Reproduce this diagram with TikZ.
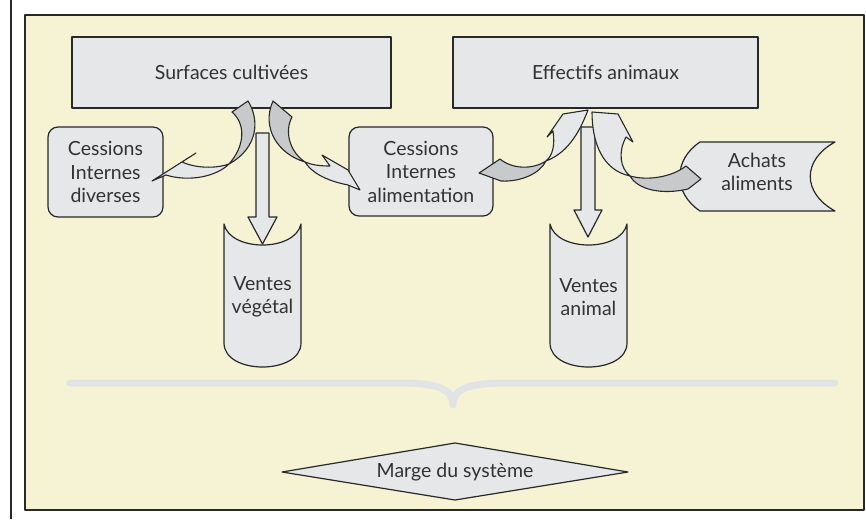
\documentclass[tikz,border=0pt]{standalone}
\usepackage{fontspec}
\setmainfont{Lato}
\definecolor{bgy}{RGB}{245,243,212}
\definecolor{boxg}{RGB}{230,231,233}
\definecolor{darkg}{RGB}{200,201,203}
\definecolor{linec}{RGB}{40,40,40}
\definecolor{txt}{RGB}{50,50,50}
\definecolor{bracec}{RGB}{226,227,228}
\tikzset{
  shp/.style={draw=linec, line width=1.2pt, fill=boxg},
  box/.style={shp, rectangle, inner sep=0pt, text=txt, align=center, font=\fontsize{19.5}{23.5}\selectfont},
  rbox/.style={box, rounded corners=10pt},
  lbl/.style={inner sep=0pt, text=txt, align=center, font=\fontsize{19.5}{23.5}\selectfont},
  ribdark/.style={draw=linec, line width=1.1pt, fill=darkg},
  riblight/.style={draw=linec, line width=1.1pt, fill=boxg},
}
\begin{document}
\begin{tikzpicture}[x=1pt,y=-1pt,line join=round]
\useasboundingbox (0,0) rectangle (866,519);
% frame
\draw[line width=1.3pt, linec] (11,0) -- (11,519);
\draw[line width=1.5pt, draw=linec, fill=bgy] (25,15) rectangle (864,510);

% main boxes
\node[box, minimum width=319pt, minimum height=71pt] (surf) at (231.5,72.5) {Surfaces cultivées};
\node[box, minimum width=305pt, minimum height=71pt] (eff) at (605.5,72.5) {Effectifs animaux};
\node[rbox, minimum width=115pt, minimum height=90pt] (cid) at (105.5,172) {Cessions\\Internes\\diverses};
\node[rbox, minimum width=144pt, minimum height=89pt] (cia) at (421,171.5) {Cessions\\Internes\\alimentation};

% Achats (stored data shape)
\draw[shp] (700,142) -- (835,142) .. controls (802,160) and (802,193) .. (835,211)
  -- (700,211) .. controls (673,193) and (673,160) .. (700,142) -- cycle;
\node[lbl] (ach) at (757,172) {Achats\\aliments};

% Ventes shapes
\draw[shp] (224,224) .. controls (230,252) and (295,252) .. (301,224) -- (301,343)
  .. controls (301,375) and (224,375) .. (224,343) -- cycle;
\node[lbl] (vv) at (262.5,297) {Ventes\\végétal};
\draw[shp] (550,224) .. controls (556,252) and (621,252) .. (627,224) -- (627,343)
  .. controls (627,375) and (550,375) .. (550,343) -- cycle;
\node[lbl] (va) at (588.5,297) {Ventes\\animal};

% straight block arrows
\draw[shp] (256,133) -- (269,133) -- (269,217) -- (277,217) -- (262.5,244) -- (248,217) -- (256,217) -- cycle;
\draw[shp] (581,127) -- (595,127) -- (595,210) -- (602,210) -- (588,237) -- (574,210) -- (581,210) -- cycle;

% curved arrow 1 : surfaces -> cessions diverses
\coordinate (t1) at (229,164);
\draw[ribdark] (232,112) -- (248,101) .. controls (260,120) and (258,148) .. (t1)
  .. controls (245,146) and (246,124) .. (232,112) -- cycle;
\draw[riblight] (t1) .. controls (215,169) and (195,168) .. (182,162) -- (196,153) -- (152,181) -- (166,175)
  .. controls (188,182) and (216,177) .. (t1) -- cycle;

% curved arrow 2 : surfaces -> cessions alimentation
\coordinate (t2) at (305,162);
\draw[ribdark] (273,101) -- (292,117) .. controls (284,132) and (290,152) .. (t2)
  .. controls (278,154) and (261,128) .. (273,101) -- cycle;
\draw[riblight] (t2) .. controls (312,165) and (320,166) .. (330,166) -- (322,155) -- (348,170) -- (360,190) -- (348,185)
  .. controls (333,182) and (314,176) .. (t2) -- cycle;

% curved arrow 3 : cessions alimentation -> effectifs
\coordinate (t3) at (546,161);
\draw[ribdark] (t3) .. controls (532,170) and (512,169) .. (500,159) -- (479,173) -- (501,181)
  .. controls (522,182) and (540,173) .. (t3) -- cycle;
\draw[riblight] (t3) .. controls (570,152) and (581,128) .. (588,110) -- (563,114) -- (547,137) -- (553,131)
  .. controls (555,145) and (553,155) .. (t3) -- cycle;

% curved arrow 4 : achats -> effectifs
\coordinate (t4) at (630,176);
\draw[ribdark] (t4) .. controls (648,181) and (672,177) .. (686,166) -- (701,179) -- (688,189)
  .. controls (662,195) and (638,190) .. (t4) -- cycle;
\draw[riblight] (t4) .. controls (602,170) and (592,142) .. (592,112) -- (618,114) -- (633,142) -- (626,137)
  .. controls (618,152) and (620,168) .. (t4) -- cycle;

% brace
\draw[bracec, line width=7pt, line cap=round] (70,383) -- (400,383)
  .. controls (440,383) and (453,390) .. (453,405)
  .. controls (453,390) and (466,383) .. (506,383) -- (835,383);

% diamond
\draw[shp] (282,472) -- (455,443) -- (628,472) -- (455,500) -- cycle;
\node[lbl] (marge) at (455,472) {Marge du système};
\end{tikzpicture}
\end{document}
